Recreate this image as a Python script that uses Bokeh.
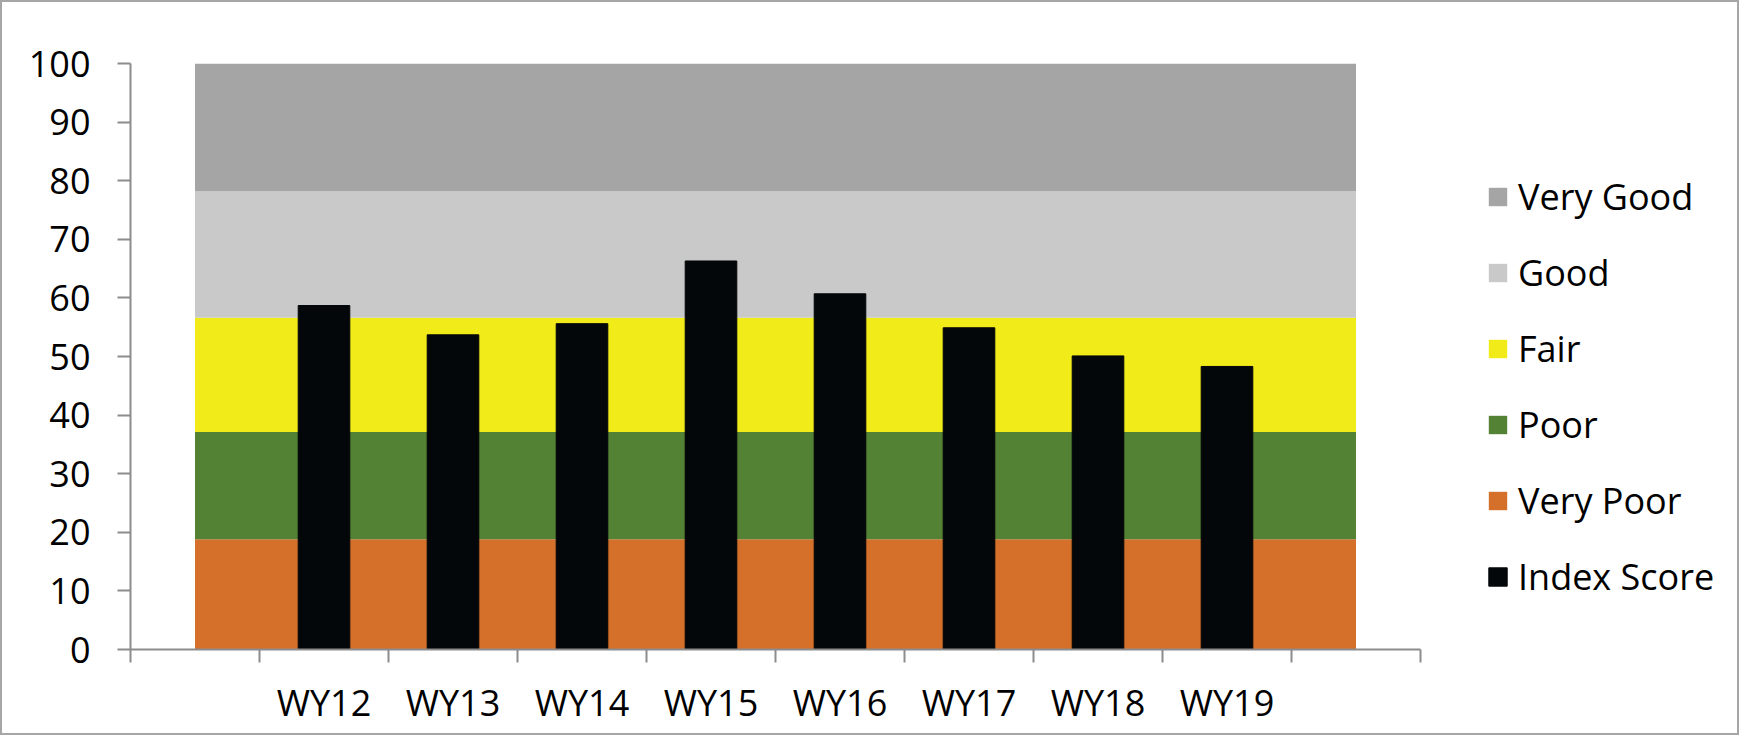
from bokeh.plotting import figure
from bokeh.models import (Range1d, FixedTicker, Legend, LegendItem,
                          InlineStyleSheet, ColumnDataSource)
from bokeh.embed import file_html
from bokeh.resources import INLINE

# ---------------- data ----------------
categories = ["WY12", "WY13", "WY14", "WY15", "WY16", "WY17", "WY18", "WY19"]
index_score = [58.7, 53.7, 55.6, 66.3, 60.7, 54.9, 50.1, 48.3]

# category slots on the x axis (an empty slot on each side, as in the original)
slot_labels = ["", "WY12", "WY13", "WY14", "WY15", "WY16", "WY17", "WY18", "WY19", ""]

# condition bands (stacked areas), one value per slot
very_poor = [18.8, 18.8, 18.8, 18.8, 18.8, 18.8, 18.8, 18.8, 18.8, 18.8]
poor      = [18.3, 18.3, 18.3, 18.3, 18.3, 18.3, 18.3, 18.3, 18.3, 18.3]
fair      = [19.5, 19.5, 19.5, 19.5, 19.5, 19.5, 19.5, 19.5, 19.5, 19.5]
good      = [21.6, 21.6, 21.6, 21.6, 21.6, 21.6, 21.6, 21.6, 21.6, 21.6]
very_good = [21.8, 21.8, 21.8, 21.8, 21.8, 21.8, 21.8, 21.8, 21.8, 21.8]

band_keys = ["very_poor", "poor", "fair", "good", "very_good"]
band_names = ["Very Poor", "Poor", "Fair", "Good", "Very Good"]
band_colors = ["#D5702B", "#548235", "#F2EB1A", "#C9C9C9", "#A5A5A5"]
bar_color = "#040709"

y_ticks = [0, 10, 20, 30, 40, 50, 60, 70, 80, 90, 100]

# ---------------- styling / layout ----------------
FONT = "Open Sans"
FONT_SIZE = "36px"
AXIS_COLOR = "#8C8C8C"

W, H = 1739, 735
LEFT, TOP, BOTTOM, RIGHT = 128, 61, 88, 0
SLOT_PX = 129                      # pixel width of one category slot
n_slots = len(slot_labels)
frame_w = W - LEFT - RIGHT
x_end = frame_w / SLOT_PX          # frame extends to the right to host the legend

slot_x = [i + 0.5 for i in range(n_slots)]
bar_x = [slot_x[slot_labels.index(c)] for c in categories]
slot_edges = list(range(n_slots + 1))

src = ColumnDataSource(dict(x=slot_x, very_poor=very_poor, poor=poor, fair=fair,
                            good=good, very_good=very_good))

p = figure(width=W, height=H,
           x_range=Range1d(0, x_end), y_range=Range1d(0, 100),
           output_backend="svg", toolbar_location=None,
           min_border_left=LEFT, min_border_right=RIGHT,
           min_border_top=TOP, min_border_bottom=BOTTOM)
p.outline_line_color = None
p.grid.visible = False
p.background_fill_color = "white"
p.border_fill_color = "white"
p.stylesheets = [InlineStyleSheet(css=":host { border: 2px solid #A6A6A6; }")]

areas = p.varea_stack(stackers=band_keys, x="x", fill_color=band_colors, source=src)
bars = p.vbar(x=bar_x, top=index_score, width=0.4, fill_color=bar_color,
              line_color=bar_color)

# x axis (drawn only over the category slots)
xa = p.xaxis[0]
xa.bounds = (0, n_slots)
xa.ticker = FixedTicker(ticks=bar_x, minor_ticks=slot_edges)
xa.major_label_overrides = {x: c for x, c in zip(bar_x, categories)}
xa.major_tick_out = 13
xa.major_tick_in = 0
xa.major_tick_line_color = None
xa.minor_tick_out = 13
xa.minor_tick_in = 0
xa.minor_tick_line_color = AXIS_COLOR
xa.minor_tick_line_width = 2
xa.axis_line_color = AXIS_COLOR
xa.axis_line_width = 2
xa.major_label_text_font = FONT
xa.major_label_text_font_size = FONT_SIZE
xa.major_label_text_color = "black"
xa.major_label_standoff = 15

# y axis
ya = p.yaxis[0]
ya.ticker = FixedTicker(ticks=y_ticks, minor_ticks=[])
ya.major_tick_out = 13
ya.major_tick_in = 0
ya.major_tick_line_color = AXIS_COLOR
ya.major_tick_line_width = 2
ya.minor_tick_out = 0
ya.minor_tick_in = 0
ya.axis_line_color = AXIS_COLOR
ya.axis_line_width = 2
ya.major_label_text_font = FONT
ya.major_label_text_font_size = FONT_SIZE
ya.major_label_text_color = "black"
ya.major_label_standoff = 27

# legend, to the right of the category slots
items = []
for name, r in zip(band_names[::-1], areas[::-1]):
    items.append(LegendItem(label=name, renderers=[r]))
items.append(LegendItem(label="Index Score", renderers=[bars]))

legend = Legend(items=items, location=(n_slots * SLOT_PX + 66, 48),
                orientation="vertical",
                padding=0, margin=0, spacing=27,
                glyph_width=23, glyph_height=23, label_height=48,
                label_standoff=9, label_text_font=FONT,
                label_text_font_size=FONT_SIZE, label_text_color="black",
                border_line_color=None, background_fill_alpha=0)
p.add_layout(legend)

open("out.html", "w").write(file_html(p, INLINE))
